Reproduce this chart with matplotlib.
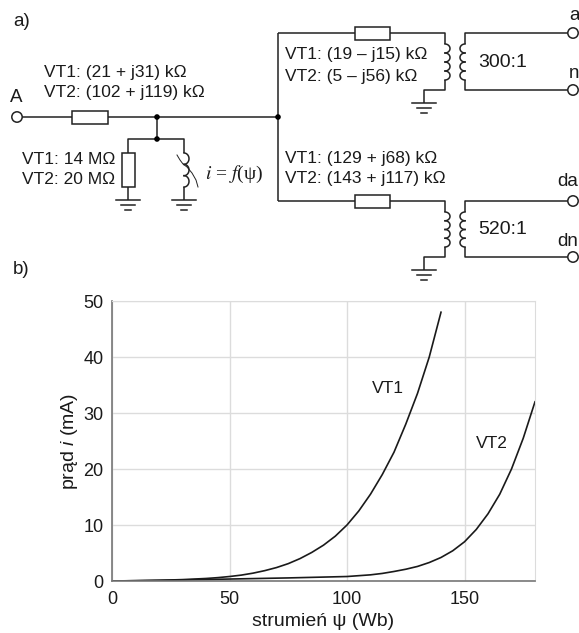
import numpy as np
import matplotlib
matplotlib.use("Agg")
import matplotlib.pyplot as plt
from matplotlib.patches import Rectangle, Circle

plt.rcParams['font.family'] = ['Liberation Sans', 'DejaVu Sans']
plt.rcParams['mathtext.fontset'] = 'custom'
plt.rcParams['mathtext.it'] = 'Liberation Sans:italic'
plt.rcParams['mathtext.rm'] = 'Liberation Sans'

# values
psi_vt1 = [0, 10, 20, 30, 40, 45, 50, 55, 60, 65, 70, 75, 80, 85, 90, 95, 100,
           105, 110, 115, 120, 125, 130, 135, 140]
cur_vt1 = [0, 0.05, 0.12, 0.25, 0.45, 0.6, 0.8, 1.05, 1.4, 1.85, 2.4, 3.1, 4.0, 5.1, 6.4, 8.0, 10,
           12.5, 15.5, 19, 23, 28, 33.5, 40, 48]
psi_vt2 = [0, 25, 50, 75, 90, 100, 105, 110, 115, 120, 125, 130, 135, 140, 145, 150,
           155, 160, 165, 170, 175, 180]
cur_vt2 = [0, 0.15, 0.35, 0.55, 0.7, 0.8, 0.95, 1.1, 1.35, 1.7, 2.1, 2.6, 3.3, 4.2, 5.4, 7.0,
           9.2, 12, 15.5, 20, 25.5, 32]
x_ticks = [0, 50, 100, 150]
y_ticks = [0, 10, 20, 30, 40, 50]

W, H = 579, 633
fig = plt.figure(figsize=(W / 100, H / 100), dpi=100)

# chart b)
L, R, T, B = 112, 535, 301, 581
ax = fig.add_axes([L / W, 1 - B / H, (R - L) / W, (B - T) / H])
ax.plot(psi_vt1, cur_vt1, color='#1a1a1a', lw=1.2)
ax.plot(psi_vt2, cur_vt2, color='#1a1a1a', lw=1.2)
ax.set_xlim(0, 180)
ax.set_ylim(0, 50)
ax.set_xticks(x_ticks)
ax.set_yticks(y_ticks)
ax.grid(color='#dcdcdc', lw=1)
ax.set_axisbelow(True)
for s in ['top', 'right']:
    ax.spines[s].set_color('#dcdcdc')
for s in ['left', 'bottom']:
    ax.spines[s].set_color('#777777')
    ax.spines[s].set_linewidth(1.2)
ax.tick_params(length=0, labelsize=13, colors='#1a1a1a', pad=6)
ax.tick_params(axis='x', pad=7)
ax.text(117.5, 34.3, 'VT1', fontsize=12.5, ha='center', va='center', color='#1a1a1a')
ax.text(161.5, 24.5, 'VT2', fontsize=12.5, ha='center', va='center', color='#1a1a1a')

# schematic a) on a pixel overlay
ov = fig.add_axes([0, 0, 1, 1], facecolor='none')
ov.set_xlim(0, W)
ov.set_ylim(H, 0)
ov.axis('off')
INK = '#222222'


def wire(*pts):
    xs, ys = zip(*pts)
    ov.plot(xs, ys, color=INK, lw=1.1, solid_capstyle='butt', zorder=2)


def res_h(x0, x1, y, h=13):
    ov.add_patch(Rectangle((x0, y - h / 2), x1 - x0, h, fc='white', ec=INK, lw=1.1, zorder=3))


def res_v(x, y0, y1, w=13):
    ov.add_patch(Rectangle((x - w / 2, y0), w, y1 - y0, fc='white', ec=INK, lw=1.1, zorder=3))


def ground(x, y):
    for dy, half in [(0, 12), (5, 7), (10, 3)]:
        ov.plot([x - half, x + half], [y + dy, y + dy], color=INK, lw=1.1, zorder=2)


def dot(x, y):
    ov.add_patch(Circle((x, y), 2.8, fc='black', ec='none', zorder=4))


def term(x, y):
    ov.add_patch(Circle((x, y), 5.2, fc='white', ec=INK, lw=1.1, zorder=4))


def coil(x, y0, y1, side=1, n=4):
    h = (y1 - y0) / n
    t = np.linspace(-np.pi / 2, np.pi / 2, 24)
    for k in range(n):
        yc = y0 + (k + 0.5) * h
        ov.plot(x + side * 5 * np.cos(t), yc + h / 2 * np.sin(t), color=INK, lw=1.1, zorder=2)


def label(x, y, s, size=12.5):
    ov.text(x, y, s, fontsize=size, va='center', ha='left', color='#1a1a1a')


# input side
term(17, 117)
wire((22, 117), (278, 117))
res_h(72, 108, 117)
dot(157, 117)
dot(278, 117)
wire((157, 117), (157, 139))
dot(157, 139)
wire((128, 187), (128, 139), (184, 139), (184, 153))
res_v(128, 153, 187)
wire((128, 187), (128, 200))
ground(128, 200)
coil(184, 153, 187, n=3)
wire((184, 187), (184, 200))
ground(184, 200)
ov.plot([177, 180, 183, 187, 192, 196, 198], [155, 160, 164, 167, 173, 180, 187], color=INK, lw=0.7, zorder=2)
ov.text(205, 174, r'$i$ = $f$(ψ)', fontsize=14, va='center', ha='left',
        family=['Liberation Serif', 'DejaVu Serif'], math_fontfamily='stix', color='#1a1a1a')

# upper and lower branches
wire((278, 33), (278, 201))
for y_top, y_bot, ratio in [(33, 90, '300:1'), (201, 257, '520:1')]:
    wire((278, y_top), (445, y_top), (445, y_top + 11))
    res_h(355, 390, y_top)
    coil(445, y_top + 11, y_bot - 10)
    wire((445, y_bot - 10), (445, y_bot), (424, y_bot), (424, y_bot + 13))
    ground(424, y_bot + 13)
    wire((568, y_top), (465, y_top), (465, y_top + 11))
    coil(465, y_top + 11, y_bot - 10, side=-1)
    wire((465, y_bot - 10), (465, y_bot), (568, y_bot))
    term(573, y_top)
    term(573, y_bot)
    label(478, (y_top + y_bot) / 2 + 1, ratio, size=14)

label(13, 22, 'a)', size=13.5)
label(13, 270, 'b)', size=13.5)
label(44, 72, 'VT1: (21 + j31) kΩ')
label(44, 92, 'VT2: (102 + j119) kΩ')
label(10, 97, 'A', size=13.5)
label(22, 159, 'VT1: 14 MΩ')
label(22, 180, 'VT2: 20 MΩ')
label(285, 55, 'VT1: (19 – j15) kΩ')
label(285, 76, 'VT2: (5 – j56) kΩ')
label(285, 159, 'VT1: (129 + j68) kΩ')
label(285, 179, 'VT2: (143 + j117) kΩ')
label(569, 15, 'a', size=13.5)
label(569, 73, 'n', size=13.5)
label(557, 181, 'da', size=13.5)
label(557, 241, 'dn', size=13.5)

ov.text(70, 441, r'prąd $\mathit{i}$ (mA)', fontsize=14, rotation=90, ha='center', va='center', color='#1a1a1a')
ov.text(323, 622, 'strumień ψ (Wb)', fontsize=14, ha='center', va='center', color='#1a1a1a')

fig.savefig('out.png', dpi=100)
